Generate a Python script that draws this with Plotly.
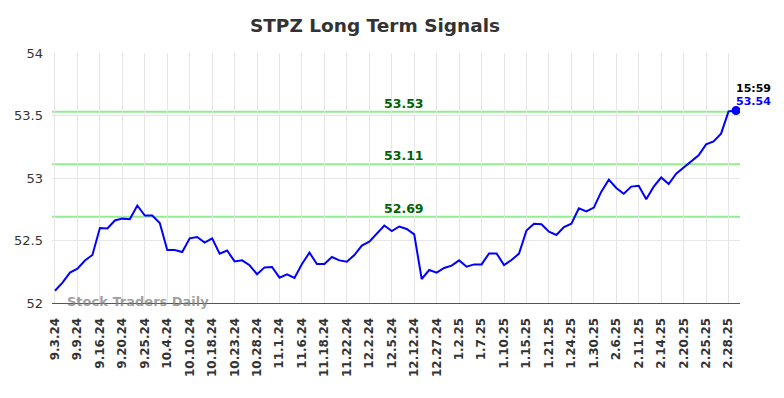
import plotly.graph_objects as go

values = [
    52.098, 52.163, 52.243, 52.275, 52.340, 52.384, 52.600, 52.597, 52.660, 52.675,
    52.670, 52.780, 52.700, 52.700, 52.640, 52.424, 52.424, 52.408, 52.517, 52.528,
    52.483, 52.517, 52.395, 52.420, 52.333, 52.341, 52.302, 52.230, 52.285, 52.288,
    52.203, 52.230, 52.200, 52.312, 52.403, 52.312, 52.312, 52.368, 52.341, 52.330,
    52.384, 52.459, 52.490, 52.557, 52.620, 52.576, 52.612, 52.592, 52.549, 52.192,
    52.264, 52.243, 52.280, 52.299, 52.341, 52.290, 52.309, 52.309, 52.397, 52.397,
    52.304, 52.344, 52.395, 52.580, 52.634, 52.630, 52.571, 52.544, 52.608, 52.635,
    52.757, 52.733, 52.763, 52.891, 52.987, 52.920, 52.874, 52.931, 52.938, 52.830,
    52.931, 53.004, 52.952, 53.035, 53.084, 53.128, 53.182, 53.269, 53.293, 53.355,
    53.533, 53.540,
]

tick_labels = [
    "9.3.24", "9.9.24", "9.16.24", "9.20.24", "9.25.24", "10.4.24", "10.10.24",
    "10.18.24", "10.23.24", "10.28.24", "11.1.24", "11.6.24", "11.18.24", "11.22.24",
    "12.2.24", "12.5.24", "12.12.24", "12.27.24", "1.2.25", "1.7.25", "1.10.25",
    "1.15.25", "1.21.25", "1.24.25", "1.30.25", "2.6.25", "2.11.25", "2.14.25",
    "2.20.25", "2.25.25", "2.28.25",
]

levels = [53.53, 53.11, 52.69]
last_time = "15:59"

x = list(range(len(values)))
tick_vals = [i * 3 for i in range(len(tick_labels))]
tick_text = [f"<b>{t}</b>" for t in tick_labels]

fig = go.Figure()

for lv in levels:
    fig.add_shape(type="line", xref="paper", x0=0, x1=1, yref="y", y0=lv, y1=lv,
                  line=dict(color="#90ee90", width=2), layer="below")
    fig.add_annotation(x=46.7, y=lv, xref="x", yref="y", text=f"<b>{lv:.2f}</b>",
                       showarrow=False, yanchor="bottom", yshift=-1,
                       font=dict(family="DejaVu Sans", size=12.5, color="#006400"))

fig.add_trace(go.Scatter(x=x, y=values, mode="lines",
                         line=dict(color="#0000ff", width=2), hoverinfo="skip"))
fig.add_trace(go.Scatter(x=[x[-1]], y=[values[-1]], mode="markers",
                         marker=dict(color="#0000ff", size=9), hoverinfo="skip"))

fig.add_annotation(x=x[-1], y=values[-1], xref="x", yref="y", text=f"<b>{last_time}</b>",
                   showarrow=False, xanchor="left", yanchor="bottom", xshift=-2, yshift=14,
                   font=dict(family="DejaVu Sans", size=11, color="#000000"))
fig.add_annotation(x=x[-1], y=values[-1], xref="x", yref="y", text=f"<b>{values[-1]:.2f}</b>",
                   showarrow=False, xanchor="left", yanchor="bottom", xshift=-2, yshift=1,
                   font=dict(family="DejaVu Sans", size=11, color="#0000ff"))

fig.add_annotation(x=0.0, y=0.0, xref="paper", yref="paper", text="<b>Stock Traders Daily</b>",
                   showarrow=False, xanchor="left", yanchor="bottom", xshift=13, yshift=-8,
                   font=dict(family="DejaVu Sans", size=13, color="rgba(128,128,128,0.75)"))

fig.update_layout(
    width=784, height=398,
    margin=dict(l=52, r=44, t=53, b=95),
    paper_bgcolor="white", plot_bgcolor="white",
    showlegend=False,
    title=dict(text="<b>STPZ Long Term Signals</b>", x=375 / 784, xanchor="center",
               y=1 - 26 / 398, yanchor="middle",
               font=dict(family="DejaVu Sans", size=18.5, color="#333333")),
    font=dict(family="DejaVu Sans", color="#333333"),
)

fig.update_xaxes(range=[-0.4, 91.53], tickmode="array", tickvals=tick_vals, ticktext=tick_text,
                 tickangle=-90, showgrid=True, gridcolor="#e6e6e6", gridwidth=1,
                 showline=True, linecolor="#555555", linewidth=1, zeroline=False,
                 ticks="", ticklabelstandoff=9,
                 tickfont=dict(family="DejaVu Sans", size=12, color="#333333"))
fig.update_yaxes(range=[52, 54], tickvals=[52, 52.5, 53, 53.5, 54],
                 ticktext=["52", "52.5", "53", "53.5", "54"],
                 showgrid=True, gridcolor="#e6e6e6", gridwidth=1, zeroline=False,
                 showline=False, ticks="", ticklabelstandoff=8,
                 tickfont=dict(family="DejaVu Sans", size=13, color="#333333"))

fig.write_html("out.html", config={"displayModeBar": False},
               post_script="document.body.style.margin='0';document.body.style.overflow='hidden';")
